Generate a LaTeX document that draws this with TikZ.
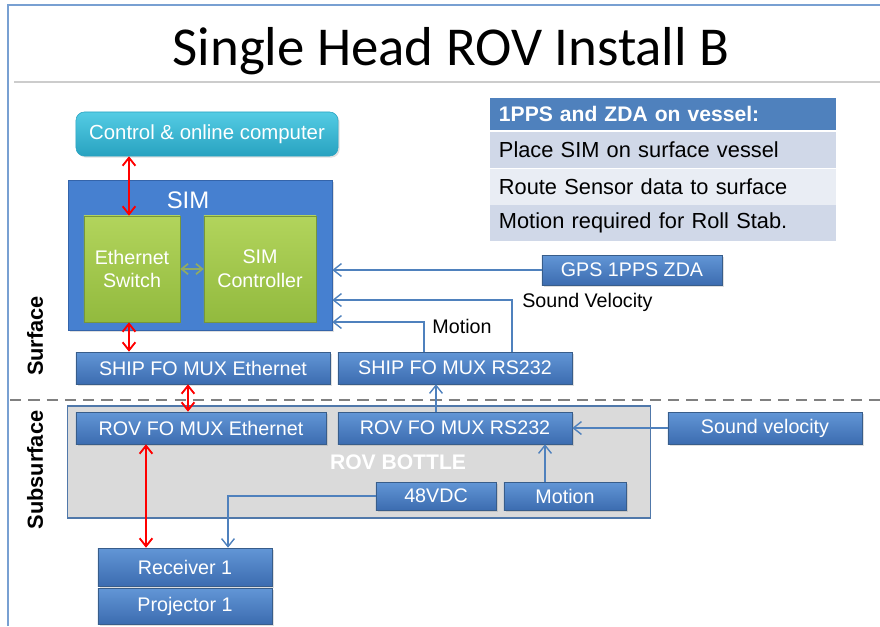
\documentclass[tikz,border=0pt]{standalone}
\usepackage{fontspec}
\setmainfont{Liberation Sans}
\newfontfamily\titlefont{Carlito}
\usetikzlibrary{arrows.meta,positioning,calc,shadows}
\definecolor{boxtop}{RGB}{98,150,214}
\definecolor{boxbot}{RGB}{60,108,176}
\definecolor{boxline}{RGB}{56,93,138}
\definecolor{simblue}{RGB}{70,128,208}
\definecolor{simline}{RGB}{52,100,170}
\definecolor{greentop}{RGB}{178,212,92}
\definecolor{greenbot}{RGB}{146,186,62}
\definecolor{greenline}{RGB}{118,150,60}
\definecolor{tealtop}{RGB}{84,204,228}
\definecolor{tealbot}{RGB}{40,162,192}
\definecolor{linkblue}{RGB}{79,129,189}
\definecolor{bottlegrey}{RGB}{218,218,218}
\definecolor{bottleline}{RGB}{80,120,170}
\definecolor{hdrblue}{RGB}{79,129,189}
\definecolor{rowdark}{RGB}{208,216,232}
\definecolor{rowlight}{RGB}{233,237,244}
\definecolor{frameblue}{RGB}{120,160,210}

\begin{document}
\begin{tikzpicture}[
    x=0.025cm, y=-0.025cm,
    blk/.style={draw=boxline, top color=boxtop, bottom color=boxbot, text=white, font=\fontsize{14}{16}\selectfont, inner sep=0pt, drop shadow={opacity=0.25, shadow xshift=0.4mm, shadow yshift=-0.4mm}},
    grn/.style={draw=greenline, top color=greentop, bottom color=greenbot, text=white, align=center, font=\fontsize{14}{17}\selectfont, inner sep=0pt},
    row/.style={minimum width=8.65cm, minimum height=0.9cm, anchor=center, inner sep=0pt, font=\fontsize{15.5}{17}\selectfont, text width=8.2cm, align=left},
    lbl/.style={font=\fontsize{14}{16}\selectfont, inner sep=0pt},
    side/.style={font=\bfseries\fontsize{15.5}{17}\selectfont, rotate=90, inner sep=0pt},
    link/.style={draw=linkblue, line width=1pt, -{Straight Barb[length=2mm, width=3.2mm]}},
    redlink/.style={draw=red, line width=1.3pt, {Straight Barb[length=2mm, width=3.2mm]}-{Straight Barb[length=2mm, width=3.2mm]}},
    grnlink/.style={draw=greenline!80!white, line width=1.2pt, {Straight Barb[length=1.6mm, width=2.6mm]}-{Straight Barb[length=1.6mm, width=2.6mm]}}
]
\useasboundingbox (0,0) rectangle (880,626);
% frame and title
\draw[frameblue, line width=0.8pt] (8,626) -- (8,5) -- (880,5);
\draw[gray!40, line width=1pt] (14,82) -- (880,82);
\node[font=\titlefont\fontsize{39}{43}\selectfont] (title) at (451,51) {Single Head ROV Install B};

% surface / subsurface split
\draw[gray, dashed, line width=1.3pt, dash pattern=on 8pt off 5pt] (10,400) -- (880,400);
\node[side] (surf) at (35,336) {Surface};
\node[side] (subsurf) at (35,470) {Subsurface};

% notes table
\node[row, fill=hdrblue, text=white, font=\bfseries\fontsize{15}{17}\selectfont, minimum height=0.8cm] (hdr) at (663,114) {1PPS and ZDA on vessel:};
\node[row, fill=rowdark] (row1) at (663,150) {Place SIM on surface vessel};
\node[row, fill=rowlight] (row2) at (663,187) {Route Sensor data to surface};
\node[row, fill=rowdark] (row3) at (663,223) {Motion required for Roll Stab.};

% surface equipment
\node[draw=tealbot, top color=tealtop, bottom color=tealbot, text=white, rounded corners=6pt, minimum width=6.55cm, minimum height=1.1cm, font=\fontsize{14.5}{16}\selectfont, drop shadow={opacity=0.25, shadow xshift=0.4mm, shadow yshift=-0.4mm}] (ctrl) at (207,134) {Control \& online computer};
\node[draw=simline, fill=simblue, minimum width=6.6cm, minimum height=3.75cm, drop shadow={opacity=0.25, shadow xshift=0.4mm, shadow yshift=-0.4mm}] (sim) at (200,255) {};
\node[text=white, font=\fontsize{17}{19}\selectfont] (simlbl) at (188,200) {SIM};
\node[grn, minimum width=2.4cm, minimum height=2.65cm] (ethsw) at (132,269) {Ethernet\\Switch};
\node[grn, minimum width=2.8cm, minimum height=2.65cm] (simctl) at (260,269) {SIM\\Controller};

\node[blk, minimum width=6.35cm, minimum height=0.8cm] (shipeth) at (203,368) {SHIP FO MUX Ethernet};
\node[blk, minimum width=5.85cm, minimum height=0.8cm] (shiprs) at (455,368) {SHIP FO MUX RS232};
\node[blk, minimum width=4.5cm, minimum height=0.75cm] (gps) at (632,270) {GPS 1PPS ZDA};

% subsurface equipment
\node[draw=bottleline, fill=bottlegrey, line width=0.8pt, minimum width=14.55cm, minimum height=2.8cm] (bottle) at (359,462) {};
\node[text=white, font=\bfseries\fontsize{15}{17}\selectfont] (bottlelbl) at (398,462) {ROV BOTTLE};
\node[blk, minimum width=6.25cm, minimum height=0.8cm] (roveth) at (201,428) {ROV FO MUX Ethernet};
\node[blk, minimum width=5.85cm, minimum height=0.8cm] (rovrs) at (455,428) {ROV FO MUX RS232};
\node[blk, minimum width=4.85cm, minimum height=0.8cm] (sndvel) at (765,428) {Sound velocity};
\node[blk, minimum width=3.0cm, minimum height=0.7cm] (dc) at (436,496) {48VDC};
\node[blk, minimum width=3.05cm, minimum height=0.7cm] (motion) at (565,496) {Motion};
\node[blk, minimum width=4.35cm, minimum height=0.95cm] (rx) at (185,567) {Receiver 1};
\node[blk, minimum width=4.35cm, minimum height=0.9cm] (proj) at (185,606) {Projector 1};

% bend points
\coordinate (ethx) at (129,0);
\coordinate (muxx) at (188,0);
\coordinate (rxx) at (146,0);
\coordinate (svbend) at (512,300);
\coordinate (mobend) at (424,322);
\coordinate (upx) at (436,0);
\coordinate (mox) at (545,0);
\coordinate (pwrx) at (228,0);

% ethernet links
\draw[redlink] (ctrl.south -| ethx) -- (ethsw.north -| ethx);
\draw[redlink] (ethsw.south -| ethx) -- (shipeth.north -| ethx);
\draw[redlink] (shipeth.south -| muxx) -- (roveth.north -| muxx);
\draw[redlink] (roveth.south -| rxx) -- (rx.north -| rxx);
\draw[grnlink] (ethsw.east) -- (simctl.west);

% serial links
\draw[link] (gps.west) -- (gps.west -| sim.east);
\draw[link] (shiprs.north -| svbend) -- (svbend) -- (svbend -| sim.east);
\draw[link] (shiprs.north -| mobend) -- (mobend) -- (mobend -| sim.east);
\node[lbl, anchor=west] (svlbl) at (522,302) {Sound Velocity};
\node[lbl] (molbl) at (462,326) {Motion};
\draw[link] (rovrs.north -| upx) -- (shiprs.south -| upx);
\draw[link] (sndvel.west) -- (rovrs.east);
\draw[link] (motion.north -| mox) -- (rovrs.south -| mox);
\draw[link] (dc.west) -| (rx.north -| pwrx);
\end{tikzpicture}
\end{document}
